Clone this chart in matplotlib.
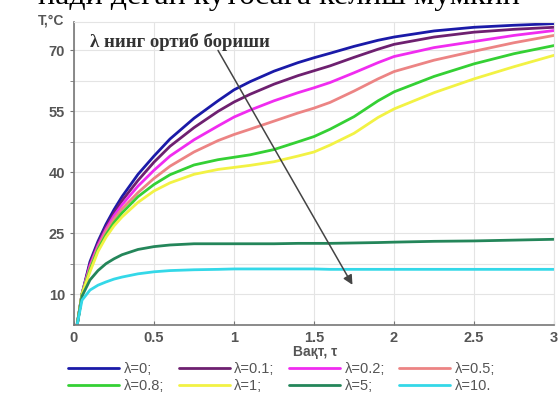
import matplotlib
matplotlib.use("Agg")
import matplotlib.pyplot as plt
from matplotlib.ticker import FixedLocator

# time points
t = [0.02, 0.05, 0.1, 0.15, 0.2, 0.25, 0.3, 0.4, 0.5, 0.6, 0.75, 0.9, 1.0, 1.1, 1.25,
     1.4, 1.5, 1.6, 1.75, 1.9, 2.0, 2.25, 2.5, 2.75, 3.0]

T_l0 = [2.5, 10, 18, 23, 27.2, 30.8, 34, 39.5, 44, 48.2, 53.3, 57.6, 60.3, 62.3, 64.9,
        67, 68.2, 69.3, 71, 72.5, 73.3, 74.8, 75.7, 76.2, 76.6]
T_l01 = [2.5, 10, 17.5, 22.5, 26.6, 30, 33, 38, 42.5, 46.4, 51, 55, 57.3, 59.2, 61.7,
         63.8, 65, 66.2, 68.3, 70.3, 71.5, 73.3, 74.5, 75.2, 75.7]
T_l02 = [2.5, 10, 17, 22, 26, 29.3, 32, 36.6, 40.5, 44, 48, 51.4, 53.6, 55.3, 57.6,
         59.6, 60.8, 62.1, 64.5, 67, 68.5, 70.7, 72.2, 73.7, 74.9]
T_l05 = [2.5, 10, 16.5, 21.5, 25.5, 28.5, 31, 35, 38.5, 41.5, 45, 47.8, 49.3, 50.6, 52.6,
         54.6, 55.8, 57.2, 60, 63, 64.8, 67.6, 69.8, 71.9, 73.7]
T_l08 = [2.5, 10, 16, 21, 24.6, 27.6, 30, 34, 37, 39.4, 41.8, 43.1, 43.7, 44.3, 45.6,
         47.5, 48.8, 50.6, 53.7, 57.6, 59.8, 63.6, 66.7, 69.2, 71.2]
T_l1 = [2.5, 10, 15.5, 20.5, 24, 26.8, 29, 32.6, 35.4, 37.4, 39.5, 40.7, 41.2, 41.7, 42.6,
        44, 45, 46.7, 49.6, 53.5, 55.6, 59.6, 63, 66, 68.8]
T_l5 = [2.5, 9.5, 13.5, 15.8, 17.5, 18.7, 19.7, 21, 21.7, 22.1, 22.4, 22.4, 22.4, 22.4, 22.4,
        22.5, 22.5, 22.5, 22.6, 22.7, 22.8, 23, 23.1, 23.3, 23.5]
T_l10 = [2.5, 8.5, 11, 12.2, 13, 13.7, 14.2, 15, 15.5, 15.8, 16, 16.1, 16.2, 16.2, 16.2,
         16.2, 16.2, 16.1, 16.1, 16.1, 16.1, 16.1, 16.1, 16.1, 16.1]

series = [T_l0, T_l01, T_l02, T_l05, T_l08, T_l1, T_l5, T_l10]
labels = ["λ=0;", "λ=0.1;", "λ=0.2;", "λ=0.5;", "λ=0.8;", "λ=1;", "λ=5;", "λ=10."]
colors = ["#1a1aa8", "#6e2070", "#f02cf0", "#ec8484", "#34d034", "#f2f244", "#24865a", "#34d8e8"]

fig = plt.figure(figsize=(5.58, 4.0), dpi=100)
ax = fig.add_axes([0.1326, 0.1875, 0.8604, 0.7575])

handles = []
for y, c, lab in zip(series, colors, labels):
    h, = ax.plot(t, y, color=c, lw=2, label=lab, solid_capstyle="round",
                 solid_joinstyle="round")
    handles.append(h)

ax.set_xlim(0, 3)
ax.set_ylim(2.4, 77)
ax.set_xticks([0, 0.5, 1, 1.5, 2, 2.5, 3])
ax.set_xticklabels(["0", "0.5", "1", "1.5", "2", "2.5", "3"])
ax.set_yticks([10, 25, 40, 55, 70])
ax.yaxis.set_minor_locator(FixedLocator([17.5, 32.5, 47.5, 62.5]))
ax.grid(True, which="both", color="#e4e4e4", lw=0.8)
ax.tick_params(axis="both", which="both", labelsize=10.5, labelcolor="#555555", color="#777777")
ax.tick_params(axis="y", which="both", direction="out", length=3)
ax.tick_params(axis="x", direction="in", length=3, pad=4)
for lab in ax.get_xticklabels() + ax.get_yticklabels():
    lab.set_fontweight("bold")
    lab.set_family("Liberation Sans")
for s in ["top", "right"]:
    ax.spines[s].set_color("#e4e4e4")
for s in ["left", "bottom"]:
    ax.spines[s].set_color("#777777")
    ax.spines[s].set_linewidth(1.2)

ax.annotate("", xy=(1.74, 12.3), xytext=(0.9, 70),
            arrowprops=dict(arrowstyle="-|>", color="#444444", lw=1.1,
                            mutation_scale=14, shrinkA=0, shrinkB=0))
ax.text(0.1, 72.0, "λ нинг ортиб бориши", family="Liberation Serif", fontweight="bold",
        fontsize=13.5, color="#333333", va="center", ha="left")

fig.text(0.068, 0.948, "T,°C", family="Liberation Sans", fontweight="bold",
         fontsize=10, color="#555555", ha="left", va="center")
fig.text(0.565, 0.12, "Вақт, τ", family="Liberation Sans", fontweight="bold",
         fontsize=10, color="#555555", ha="center", va="center")

order = [0, 4, 1, 5, 2, 6, 3, 7]
fig.legend([handles[i] for i in order], [labels[i] for i in order], ncol=4,
           loc="center", bbox_to_anchor=(0.505, 0.056), frameon=False,
           handlelength=3.5, handletextpad=0.3, columnspacing=1.0, labelspacing=0.2,
           prop={"family": "Liberation Sans", "size": 10.5}, labelcolor="#555555")

fig.text(0.5, 1 - 4 / 400, "нади деган кутбсага келиш мумкин", family="Liberation Serif",
         fontsize=23, color="black", ha="center", va="baseline")

fig.savefig("out.png", dpi=100)
